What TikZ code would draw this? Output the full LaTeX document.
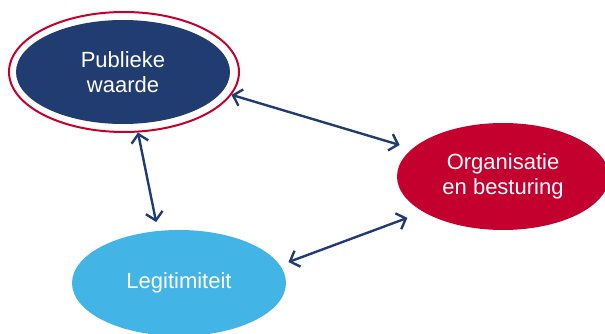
\documentclass[tikz,border=0pt]{standalone}
\usepackage{fontspec}
\setmainfont{Liberation Sans}
\usetikzlibrary{shapes.geometric, arrows.meta}
\definecolor{pwblue}{HTML}{213C70}
\definecolor{orgred}{HTML}{C4002F}
\definecolor{legblue}{HTML}{42B4E5}
\tikzset{
	x=1pt, y=-1pt, % one unit is one pixel of the original, y runs down
	<->, % every connector points both ways
	>={Straight Barb[length=8pt, width=17pt]}, % open arrow heads
	every node/.style={ellipse, inner sep=0pt, text=white, align=center, font=\fontsize{22}{25}\selectfont}, % white text in ovals
	ring/.style={draw=orgred, line width=2pt, minimum width=230pt, minimum height=120pt}, % red ring round the main oval
	pwstate/.style={fill=pwblue, minimum width=214pt, minimum height=104pt},
	orgstate/.style={fill=orgred, minimum width=212pt, minimum height=107pt},
	legstate/.style={fill=legblue, minimum width=214pt, minimum height=106pt},
	link/.style={color=pwblue, line width=2.4pt}, % the connectors
}
\begin{document}
\begin{tikzpicture}
	\useasboundingbox (0,0) rectangle (605,334);
			\node[ring] (pwring) at (124,72) {};
			\node[pwstate] (pw) at (123,72) {Publieke\\waarde};
			\node[orgstate] (org) at (503,176.5) {Organisatie\\en besturing};
			\node[legstate] (legit) at (179,283) {Legitimiteit};
	\path[link] (pwring.-12) edge[shorten >=13pt] (org.163)
			(pwring.-77) edge[shorten >=9pt] (legit.112)
			(legit.10) edge[shorten <=9pt, shorten >=17pt] (org.204);
	\end{tikzpicture}
\end{document}
